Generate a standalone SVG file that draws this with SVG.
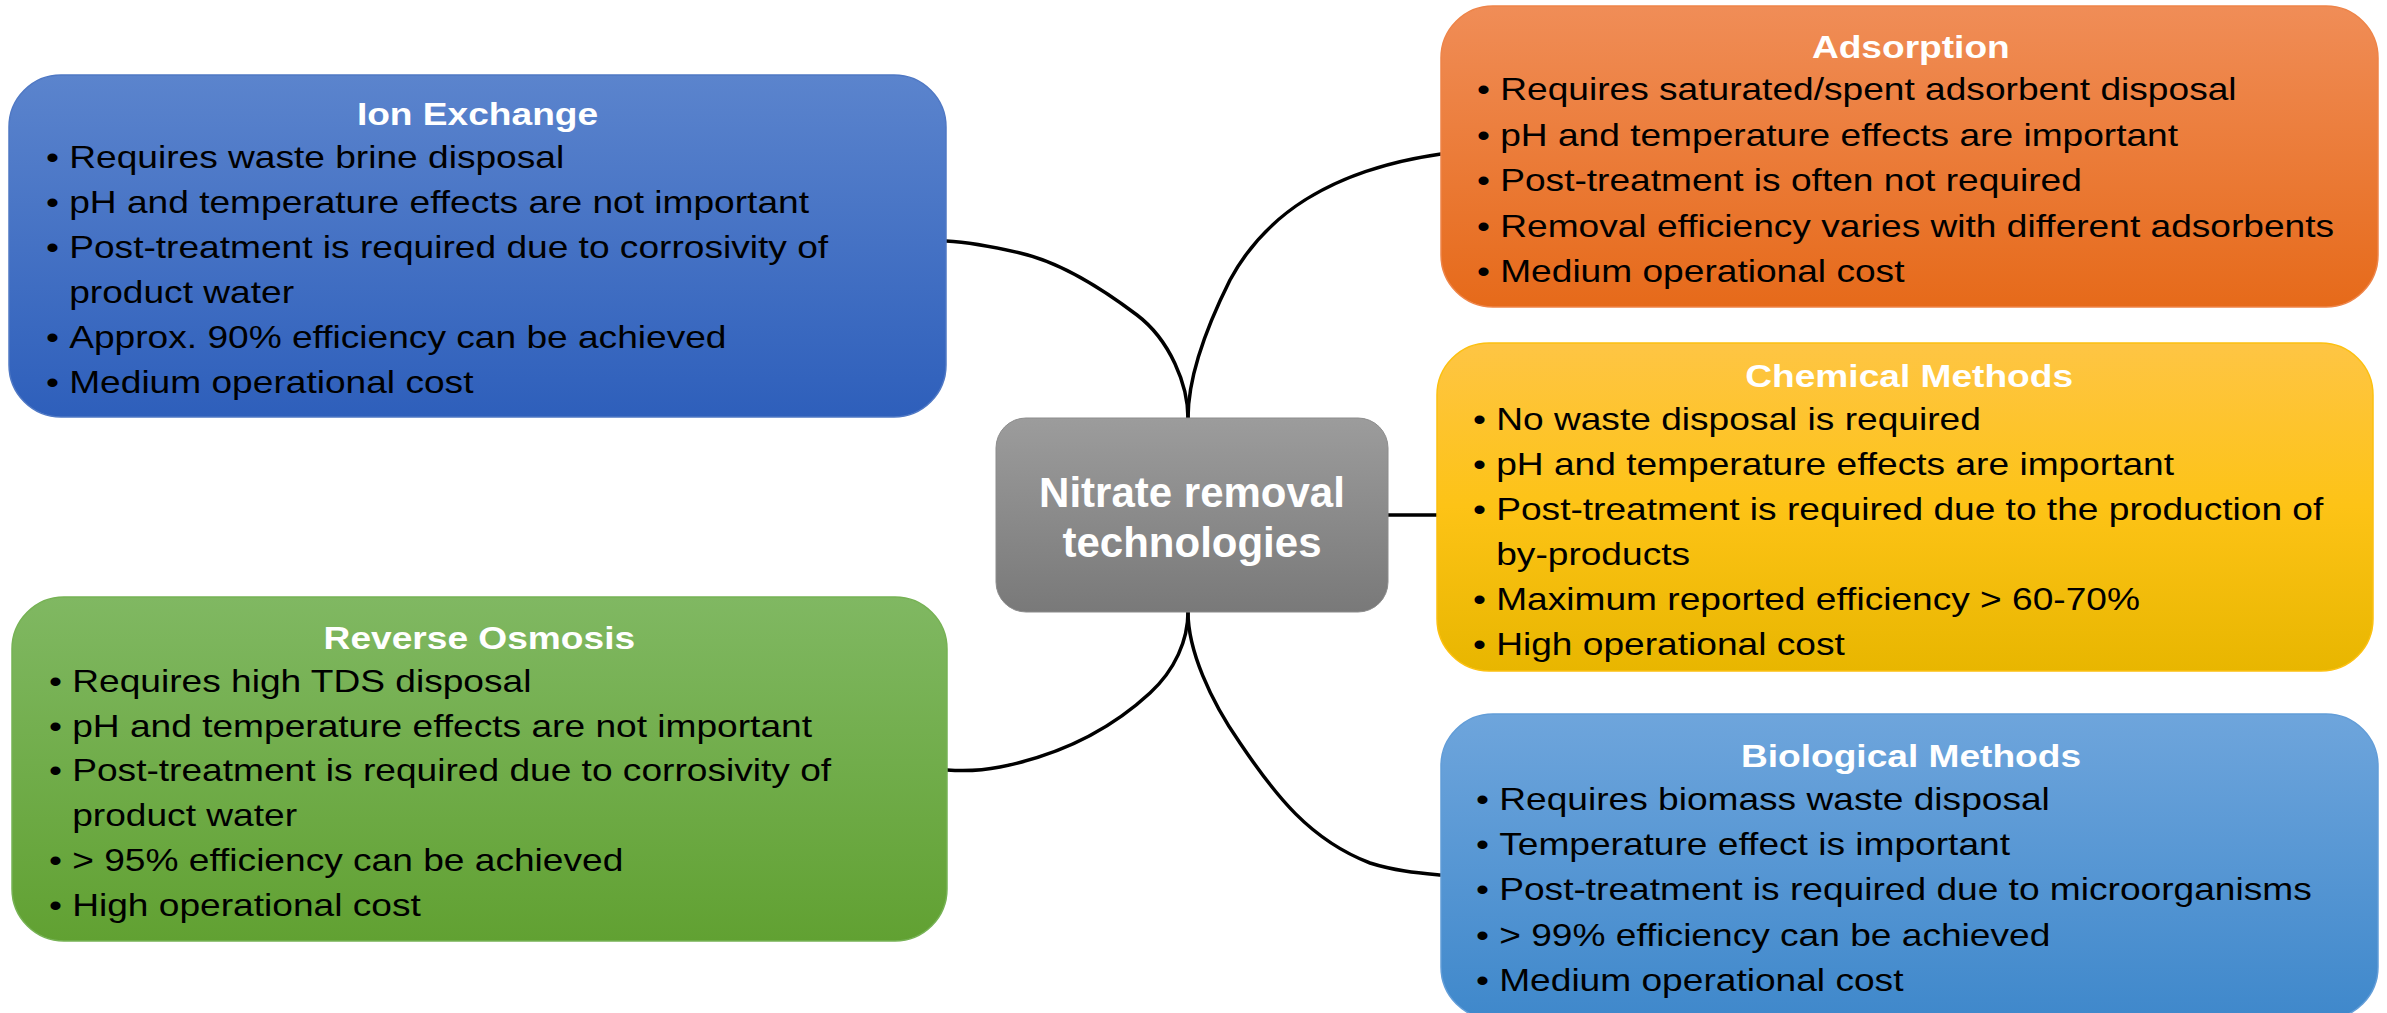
<svg xmlns="http://www.w3.org/2000/svg" width="2387" height="1013" viewBox="0 0 2387 1013">
<defs>
<linearGradient id="gBlue" x1="0" y1="0" x2="0" y2="1"><stop offset="0" stop-color="#5b84cd"/><stop offset="1" stop-color="#2e5fbb"/></linearGradient>
<linearGradient id="gOrange" x1="0" y1="0" x2="0" y2="1"><stop offset="0" stop-color="#f08d57"/><stop offset="1" stop-color="#e66a1a"/></linearGradient>
<linearGradient id="gYellow" x1="0" y1="0" x2="0" y2="1"><stop offset="0" stop-color="#fec544"/><stop offset="0.5" stop-color="#fdc316"/><stop offset="1" stop-color="#e8b600"/></linearGradient>
<linearGradient id="gGreen" x1="0" y1="0" x2="0" y2="1"><stop offset="0" stop-color="#80b862"/><stop offset="1" stop-color="#61a132"/></linearGradient>
<linearGradient id="gSky" x1="0" y1="0" x2="0" y2="1"><stop offset="0" stop-color="#6ea5dc"/><stop offset="1" stop-color="#3f88cb"/></linearGradient>
<linearGradient id="gGray" x1="0" y1="0" x2="0" y2="1"><stop offset="0" stop-color="#9c9c9c"/><stop offset="1" stop-color="#797979"/></linearGradient>
</defs>
<style>
.title{font-family:"Liberation Sans",Arial,sans-serif;font-weight:bold;font-size:32px;fill:#ffffff;text-anchor:middle}
.item{font-family:"Liberation Sans",Arial,sans-serif;font-size:32px;fill:#000000}
.center{font-family:"Liberation Sans",Arial,sans-serif;font-weight:bold;font-size:42px;fill:#ffffff;text-anchor:middle}
.conn{fill:none;stroke:#000000;stroke-width:3.5;stroke-linecap:round}
</style>
<rect width="2387" height="1013" fill="#ffffff"/>

<g id="connectors">
<path class="conn" d="M1188,418 C1188,385 1170,340 1137,315 C1100,287 1060,262 1020,253 C990,246 965,242 946,241"/>
<path class="conn" d="M1188,418 C1188,380 1205,330 1230,280 C1265,215 1330,170 1441,154"/>
<path class="conn" d="M1388,515 L1437,515"/>
<path class="conn" d="M1188,612 C1188,640 1175,670 1150,693 C1110,730 1060,755 1000,767 C980,771 960,771 947,770"/>
<path class="conn" d="M1188,612 C1188,650 1210,700 1240,743 C1275,795 1310,840 1370,863 C1395,871 1420,873 1441,875"/>
</g>

<g id="center-node">
<rect x="996" y="418" width="392" height="194" rx="30" ry="30" fill="url(#gGray)" stroke="#8c8c8c" stroke-width="1"/>
<text class="center" x="1192" y="507">Nitrate removal</text>
<text class="center" x="1192" y="557">technologies</text>
</g>

<g id="ion-exchange">
<rect x="9" y="75" width="937" height="342" rx="52" ry="52" fill="url(#gBlue)" stroke="#4f78c4" stroke-width="1.5"/>
<g transform="matrix(1.16,0,0,1,46,0)">
<text class="title" x="372" y="125">Ion Exchange</text>
<text class="item" x="0" y="168">•</text><text class="item" x="20" y="168">Requires waste brine disposal</text>
<text class="item" x="0" y="213">•</text><text class="item" x="20" y="213">pH and temperature effects are not important</text>
<text class="item" x="0" y="258">•</text><text class="item" x="20" y="258">Post-treatment is required due to corrosivity of</text>
<text class="item" x="20" y="303">product water</text>
<text class="item" x="0" y="348">•</text><text class="item" x="20" y="348">Approx. 90% efficiency can be achieved</text>
<text class="item" x="0" y="393">•</text><text class="item" x="20" y="393">Medium operational cost</text>
</g>
</g>

<g id="adsorption">
<rect x="1441" y="6" width="937" height="301" rx="52" ry="52" fill="url(#gOrange)" stroke="#ee8448" stroke-width="1.5"/>
<g transform="matrix(1.16,0,0,1,1477,0)">
<text class="title" x="374" y="58">Adsorption</text>
<text class="item" x="0" y="100">•</text><text class="item" x="20" y="100">Requires saturated/spent adsorbent disposal</text>
<text class="item" x="0" y="146">•</text><text class="item" x="20" y="146">pH and temperature effects are important</text>
<text class="item" x="0" y="191">•</text><text class="item" x="20" y="191">Post-treatment is often not required</text>
<text class="item" x="0" y="237">•</text><text class="item" x="20" y="237">Removal efficiency varies with different adsorbents</text>
<text class="item" x="0" y="282">•</text><text class="item" x="20" y="282">Medium operational cost</text>
</g>
</g>

<g id="chemical-methods">
<rect x="1437" y="343" width="936" height="328" rx="52" ry="52" fill="url(#gYellow)" stroke="#fcc010" stroke-width="1.5"/>
<g transform="matrix(1.16,0,0,1,1473,0)">
<text class="title" x="376" y="387">Chemical Methods</text>
<text class="item" x="0" y="430">•</text><text class="item" x="20" y="430">No waste disposal is required</text>
<text class="item" x="0" y="475">•</text><text class="item" x="20" y="475">pH and temperature effects are important</text>
<text class="item" x="0" y="520">•</text><text class="item" x="20" y="520">Post-treatment is required due to the production of</text>
<text class="item" x="20" y="565">by-products</text>
<text class="item" x="0" y="610">•</text><text class="item" x="20" y="610">Maximum reported efficiency &gt; 60-70%</text>
<text class="item" x="0" y="655">•</text><text class="item" x="20" y="655">High operational cost</text>
</g>
</g>

<g id="reverse-osmosis">
<rect x="12" y="597" width="935" height="344" rx="52" ry="52" fill="url(#gGreen)" stroke="#76b254" stroke-width="1.5"/>
<g transform="matrix(1.16,0,0,1,49,0)">
<text class="title" x="371" y="649">Reverse Osmosis</text>
<text class="item" x="0" y="692">•</text><text class="item" x="20" y="692">Requires high TDS disposal</text>
<text class="item" x="0" y="737">•</text><text class="item" x="20" y="737">pH and temperature effects are not important</text>
<text class="item" x="0" y="781">•</text><text class="item" x="20" y="781">Post-treatment is required due to corrosivity of</text>
<text class="item" x="20" y="826">product water</text>
<text class="item" x="0" y="871">•</text><text class="item" x="20" y="871">&gt; 95% efficiency can be achieved</text>
<text class="item" x="0" y="916">•</text><text class="item" x="20" y="916">High operational cost</text>
</g>
</g>

<g id="biological-methods">
<rect x="1441" y="714" width="937" height="305" rx="52" ry="52" fill="url(#gSky)" stroke="#629dd8" stroke-width="1.5"/>
<g transform="matrix(1.16,0,0,1,1476,0)">
<text class="title" x="375" y="767">Biological Methods</text>
<text class="item" x="0" y="810">•</text><text class="item" x="20" y="810">Requires biomass waste disposal</text>
<text class="item" x="0" y="855">•</text><text class="item" x="20" y="855">Temperature effect is important</text>
<text class="item" x="0" y="900">•</text><text class="item" x="20" y="900">Post-treatment is required due to microorganisms</text>
<text class="item" x="0" y="946">•</text><text class="item" x="20" y="946">&gt; 99% efficiency can be achieved</text>
<text class="item" x="0" y="991">•</text><text class="item" x="20" y="991">Medium operational cost</text>
</g>
</g>
</svg>
